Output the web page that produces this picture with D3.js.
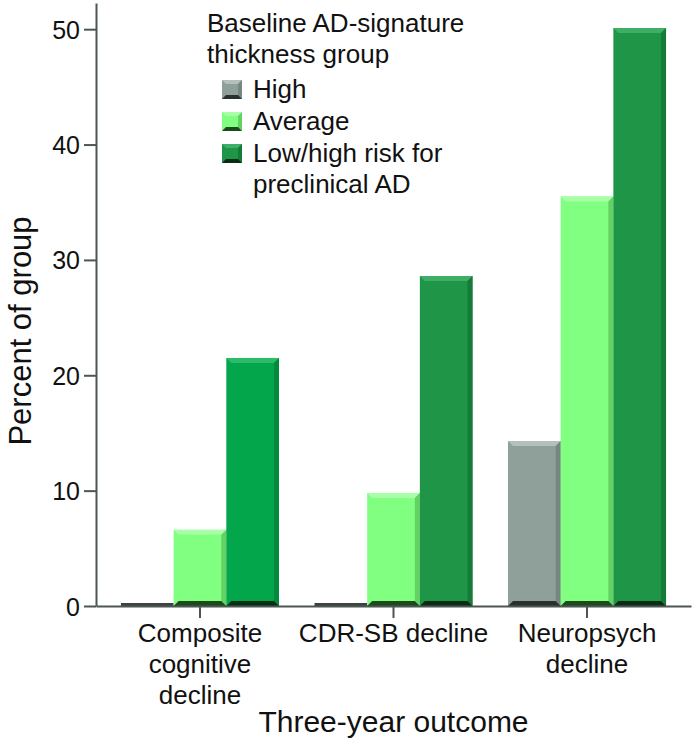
<!DOCTYPE html>
<html><head><meta charset="utf-8">
<script src="https://cdn.jsdelivr.net/npm/d3@7"></script>
<style>body{margin:0;background:#fff} text{font-family:"Liberation Sans",Arial,sans-serif;fill:#111}</style>
</head><body><svg id="c" width="696" height="745"></svg>
<script>
// ---- data ----
const categories = ["Composite cognitive decline", "CDR-SB decline", "Neuropsych decline"];
const categoryLines = [["Composite", "cognitive", "decline"], ["CDR-SB decline"], ["Neuropsych", "decline"]];
const seriesNames = ["High", "Average", "Low/high risk for preclinical AD"];
const highValues = [0, 0, 14.3];
const averageValues = [6.6, 9.8, 35.5];
const lowRiskValues = [21.5, 28.6, 50.1];
const yTicks = [0, 10, 20, 30, 40, 50];
const legendTitle = ["Baseline AD-signature", "thickness group"];
const legendLabels = [["High"], ["Average"], ["Low/high risk for", "preclinical AD"]];
const yTitle = "Percent of group";
const xTitle = "Three-year outcome";

// ---- styles ----
const palettes = [
  {main: "#8fa09b", top: "#b3c0bc", right: "#778681", bottom: "#2a302f"},
  {main: "#80ff80", top: "#a8ffa8", right: "#63d163", bottom: "#1d4a1d"},
  {main: "#1f9548", top: "#3fae67", right: "#167a38", bottom: "#0a2c14"}
];
const compositeLowPalette = {main: "#04a64b", top: "#2cbc69", right: "#038a3d", bottom: "#013015"};

const seriesValues = [highValues, averageValues, lowRiskValues];
const svg = d3.select("#c");

const y = d3.scaleLinear().domain([0, 52.27]).range([606, 3]);
const x = d3.scaleBand().domain(categories).range([96, 691]).paddingInner(0.1835).paddingOuter(0.129);
const xs = d3.scaleBand().domain(seriesNames).range([0, x.bandwidth()]);

function bevelBar(g, x0, x1, yT, yB, p, bMax) {
  const h = yB - yT;
  if (h < 3) {
    g.append("rect").attr("x", x0).attr("y", yB - 3).attr("width", x1 - x0).attr("height", 3).attr("fill", p === palettes[0] ? "#3b4241" : p.bottom);
    return;
  }
  const b = Math.min(bMax, h / 2);
  g.append("rect").attr("x", x0).attr("y", yT).attr("width", x1 - x0).attr("height", h).attr("fill", p.main);
  const poly = pts => g.append("polygon").attr("points", pts.map(d => d.join(",")).join(" "));
  poly([[x0, yT], [x1, yT], [x1 - b, yT + b], [x0 + b, yT + b]]).attr("fill", p.top);
  poly([[x1, yT], [x1, yB], [x1 - b, yB - b], [x1 - b, yT + b]]).attr("fill", p.right);
  poly([[x0, yB], [x1, yB], [x1 - b, yB - b], [x0 + b, yB - b]]).attr("fill", p.bottom);
}

// bars
const barsG = svg.append("g");
categories.forEach((c, ci) => {
  seriesNames.forEach((s, si) => {
    const v = seriesValues[si][ci];
    const x0 = x(c) + xs(s), x1 = x0 + xs.bandwidth();
    const p = (si === 2 && ci === 0) ? compositeLowPalette : palettes[si];
    bevelBar(barsG, x0, x1, y(v), y(0), p, 5);
  });
});

// axes
const axisColor = "#4c5655";
const yAxis = svg.append("g").attr("transform", "translate(96,0)")
  .call(d3.axisLeft(y).tickValues(yTicks).tickSize(12).tickSizeOuter(0).tickPadding(4));
yAxis.selectAll("path,line").attr("stroke", axisColor).attr("stroke-width", 2);
yAxis.selectAll("text").attr("font-size", 25).attr("font-family", "Liberation Sans, Arial, sans-serif").attr("fill", "#111").attr("dy", "0.36em");

const xAxis = svg.append("g").attr("transform", "translate(0,606)")
  .call(d3.axisBottom(x).tickSize(12).tickSizeOuter(0).tickFormat(""));
xAxis.selectAll("path,line").attr("stroke", axisColor).attr("stroke-width", 2);
xAxis.selectAll(".tick").each(function(d, i) {
  const t = d3.select(this).append("text").attr("text-anchor", "middle").attr("font-size", 26)
    .attr("fill", "#111").attr("y", 36);
  categoryLines[i].forEach((ln, li) => {
    t.append("tspan").attr("x", 0).attr("dy", li === 0 ? 0 : 31).text(ln);
  });
});

// titles
svg.append("text").attr("text-anchor", "middle").attr("font-size", 30)
  .attr("x", (x.range()[0] + x.range()[1]) / 2).attr("y", 732).text(xTitle);
svg.append("text").attr("text-anchor", "middle").attr("font-size", 31)
  .attr("transform", "translate(31,331) rotate(-90)").text(yTitle);

// legend
const lg = svg.append("g");
legendTitle.forEach((t, i) => lg.append("text").attr("x", 207).attr("y", 32 + i * 31).attr("font-size", 26).text(t));
const entryY = [98, 130, 162];
legendLabels.forEach((lines, i) => {
  const sg = lg.append("g");
  bevelBar(sg, 222, 242, entryY[i] - 18, entryY[i] + 1, palettes[i], 4);
  const t = lg.append("text").attr("x", 253).attr("y", entryY[i]).attr("font-size", 26);
  lines.forEach((ln, li) => t.append("tspan").attr("x", 253).attr("dy", li === 0 ? 0 : 31).text(ln));
});
</script></body></html>
